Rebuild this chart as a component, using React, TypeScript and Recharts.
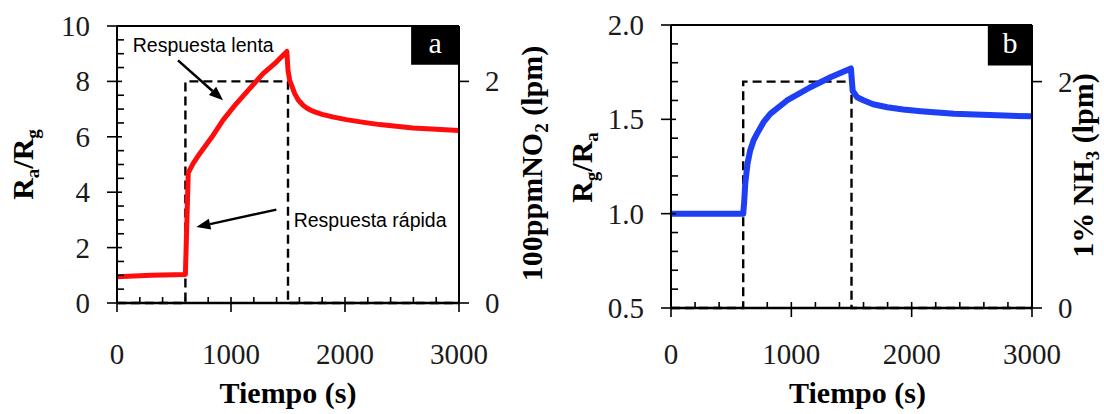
import React from 'react';
import {
  LineChart,
  Line,
  XAxis,
  YAxis,
  ReferenceLine,
  ReferenceArea,
  ReferenceDot,
} from 'recharts';

const serif = "'Liberation Serif', 'Times New Roman', Times, serif";
const sans = "'Liberation Sans', Arial, Helvetica, sans-serif";

// shared time axis ticks (s)
const xTicks = [0, 200, 400, 600, 800, 1000, 1200, 1400, 1600, 1800, 2000, 2200, 2400, 2600, 2800, 3000];
const ticksA = [0, 0.5, 1, 1.5, 2, 2.5, 3, 3.5, 4, 4.5, 5, 5.5, 6, 6.5, 7, 7.5, 8, 8.5, 9, 9.5, 10];
const ticksB = [0.5, 0.6, 0.7, 0.8, 0.9, 1.0, 1.1, 1.2, 1.3, 1.4, 1.5, 1.6, 1.7, 1.8, 1.9, 2.0];
const gasTicks = [0, 2];

// gas pulse (lpm), dashed
const gasTime = [0, 600, 600, 1500, 1500, 3000];
const gasLevel = [0, 0, 2, 2, 0, 0];

// (a) 100ppm NO2, Ra/Rg
const timeA = [0, 300, 600, 612, 625, 667, 725, 842, 930, 1047, 1164, 1281, 1398, 1490, 1500, 1515, 1559, 1590, 1632, 1665, 1700, 1740, 1800, 1900, 2012, 2150, 2304, 2450, 2596, 2800, 3000];
const ratioA = [0.95, 1.0, 1.03, 2.8, 4.7, 5.03, 5.39, 6.05, 6.6, 7.2, 7.74, 8.28, 8.7, 9.08, 8.4, 8.04, 7.56, 7.33, 7.14, 7.04, 6.96, 6.89, 6.81, 6.71, 6.62, 6.53, 6.44, 6.38, 6.32, 6.27, 6.23];

// (b) 1% NH3, Rg/Ra
const timeB = [0, 600, 608, 617, 636, 658, 686, 714, 769, 825, 964, 1158, 1325, 1495, 1510, 1547, 1603, 1680, 1797, 1930, 2075, 2353, 2769, 3000];
const ratioB = [1.0, 1.0, 1.06, 1.16, 1.265, 1.335, 1.388, 1.423, 1.485, 1.529, 1.6, 1.67, 1.723, 1.77, 1.65, 1.617, 1.6, 1.58, 1.564, 1.552, 1.543, 1.529, 1.52, 1.516];

const rows = (t: number[], v: number[]) => t.map((x, i) => ({ t: x, v: v[i] }));
const gasRows = rows(gasTime, gasLevel);
const dataA = rows(timeA, ratioA);
const dataB = rows(timeB, ratioB);

const isMajor = (v: number, step: number) => Math.abs(v / step - Math.round(v / step)) < 1e-6;

const bottomTick = (labelDy: number) => (p: any) => {
  const { x, y, payload } = p;
  const v = payload.value;
  const major = isMajor(v, 1000);
  return (
    <g>
      <line x1={x} x2={x} y1={y - 6} y2={major ? y + 9 : y} stroke="#000" strokeWidth={1.6} />
      {major && (
        <text x={x} y={y + labelDy} textAnchor="middle" fontFamily={serif} fontSize={29} fill="#1a1a1a">
          {v}
        </text>
      )}
    </g>
  );
};

const leftTick = (step: number, digits: number) => (p: any) => {
  const { x, y, payload } = p;
  const v = payload.value;
  const major = isMajor(v, step);
  return (
    <g>
      <line x1={major ? x - 10 : x} x2={major ? x + 5 : x + 7} y1={y} y2={y} stroke="#000" strokeWidth={1.6} />
      {major && (
        <text x={x - 27} y={y} dy={10} textAnchor="end" fontFamily={serif} fontSize={29} fill="#1a1a1a">
          {v.toFixed(digits)}
        </text>
      )}
    </g>
  );
};

const rightTick = (p: any) => {
  const { x, y, payload } = p;
  return (
    <g>
      <line x1={x} x2={x + 10} y1={y} y2={y} stroke="#000" strokeWidth={1.6} />
      <text x={x + 26} y={y} dy={10} textAnchor="start" fontFamily={serif} fontSize={29} fill="#1a1a1a">
        {payload.value}
      </text>
    </g>
  );
};

const vTitle = (dx: number, dyc: number, parts: Array<[string, boolean]>) => (p: any) => {
  const vb = p.viewBox;
  if (!vb) return null;
  const cx = vb.x + dx;
  const cy = vb.y + vb.height / 2 + dyc;
  let sub = false;
  return (
    <text
      transform={`rotate(-90 ${cx} ${cy})`}
      x={cx}
      y={cy}
      textAnchor="middle"
      fontFamily={serif}
      fontWeight="bold"
      fontSize={30}
      fill="#000"
    >
      {parts.map(([s, isSub], i) => {
        const dy = isSub === sub ? 0 : isSub ? 6 : -6;
        sub = isSub;
        return (
          <tspan key={i} dy={dy} fontSize={isSub ? 19 : 30}>
            {s}
          </tspan>
        );
      })}
    </text>
  );
};

const xTitle = (dx: number, baseline: number) => (p: any) => {
  const vb = p.viewBox;
  if (!vb) return null;
  return (
    <text x={vb.x + vb.width / 2 + dx} y={vb.y + baseline} textAnchor="middle" fontFamily={serif} fontWeight="bold" fontSize={30} fill="#000">
      Tiempo (s)
    </text>
  );
};

const Arrow = (p: any) => {
  const { x1, y1, x2, y2 } = p;
  const a = Math.atan2(y2 - y1, x2 - x1);
  const len = 14;
  const half = 5.5;
  const bx = x2 - len * Math.cos(a);
  const by = y2 - len * Math.sin(a);
  const px = -Math.sin(a) * half;
  const py = Math.cos(a) * half;
  return (
    <g>
      <line x1={x1} y1={y1} x2={bx} y2={by} stroke="#000" strokeWidth={2.5} />
      <polygon points={`${x2},${y2} ${bx + px},${by + py} ${bx - px},${by - py}`} fill="#000" />
    </g>
  );
};

const note = (text: string) => (p: any) => (
  <text x={p.cx} y={p.cy} dy={7} fontFamily={sans} fontSize={19.5} fill="#000">
    {text}
  </text>
);

const panelTag = (letter: string) => (p: any) => {
  const vb = p.viewBox;
  if (!vb) return null;
  return (
    <text x={vb.x + vb.width / 2} y={vb.y + vb.height / 2 + 7.5} textAnchor="middle" fontFamily={serif} fontSize={30} fill="#fff">
      {letter}
    </text>
  );
};

const axisLine = { stroke: '#000', strokeWidth: 2 };

function ChartA() {
  return (
    <LineChart width={560} height={414} margin={{ top: 26, right: 0, bottom: 0, left: 0 }}>
      <XAxis
        dataKey="t"
        type="number"
        domain={[0, 3000]}
        ticks={xTicks}
        interval={0}
        height={111}
        tickSize={0}
        tickMargin={0}
        tickLine={false}
        axisLine={axisLine}
        tick={bottomTick(61)}
        label={{ content: xTitle(0, 100) }}
      />
      <YAxis
        yAxisId="left"
        type="number"
        domain={[0, 10]}
        ticks={ticksA}
        interval={0}
        width={117}
        tickSize={0}
        tickMargin={0}
        tickLine={false}
        axisLine={axisLine}
        tick={leftTick(2, 0)}
        label={{ content: vTitle(33, 0, [['R', false], ['a', true], ['/R', false], ['g', true]]) }}
      />
      <YAxis
        yAxisId="gas"
        orientation="right"
        type="number"
        domain={[0, 2.5]}
        ticks={gasTicks}
        interval={0}
        width={101}
        tickSize={0}
        tickMargin={0}
        tickLine={false}
        axisLine={axisLine}
        tick={rightTick}
        label={{ content: vTitle(83, -1, [['100ppmNO', false], ['2', true], [' (lpm)', false]]) }}
      />
      <ReferenceLine yAxisId="left" y={10} stroke="#000" strokeWidth={2} ifOverflow="visible" />
      <Line
        yAxisId="gas"
        data={gasRows}
        dataKey="v"
        type="linear"
        stroke="#000"
        strokeWidth={2.4}
        strokeDasharray="9 5"
        dot={false}
        isAnimationActive={false}
      />
      <ReferenceLine yAxisId="left" y={0} stroke="#000" strokeWidth={2.4} ifOverflow="visible" />
      <Line
        yAxisId="left"
        data={dataA}
        dataKey="v"
        type="linear"
        stroke="#ff0d0d"
        strokeWidth={5}
        strokeLinejoin="round"
        dot={false}
        isAnimationActive={false}
      />
      <ReferenceLine yAxisId="left" segment={[{ x: 535, y: 8.76 }, { x: 930, y: 7.32 }]} shape={Arrow} />
      <ReferenceLine yAxisId="left" segment={[{ x: 1398, y: 3.37 }, { x: 696, y: 2.74 }]} shape={Arrow} />
      <ReferenceDot yAxisId="left" x={138} y={9.3} r={0} shape={note('Respuesta lenta')} />
      <ReferenceDot yAxisId="left" x={1550} y={3.0} r={0} shape={note('Respuesta rápida')} />
      <ReferenceArea
        yAxisId="left"
        x1={2580}
        x2={3000}
        y1={8.6}
        y2={10}
        fill="#000"
        fillOpacity={1}
        stroke="none"
        label={{ content: panelTag('a') }}
      />
    </LineChart>
  );
}

function ChartB() {
  return (
    <LineChart width={544} height={414} margin={{ top: 25, right: 0, bottom: 0, left: 0 }}>
      <XAxis
        dataKey="t"
        type="number"
        domain={[0, 3000]}
        ticks={xTicks}
        interval={0}
        height={106}
        tickSize={0}
        tickMargin={0}
        tickLine={false}
        axisLine={axisLine}
        tick={bottomTick(56)}
        label={{ content: xTitle(6, 95) }}
      />
      <YAxis
        yAxisId="left"
        type="number"
        domain={[0.5, 2.0]}
        ticks={ticksB}
        interval={0}
        width={111}
        tickSize={0}
        tickMargin={0}
        tickLine={false}
        axisLine={axisLine}
        tick={leftTick(0.5, 1)}
        label={{ content: vTitle(31.7, 1, [['R', false], ['g', true], ['/R', false], ['a', true]]) }}
      />
      <YAxis
        yAxisId="gas"
        orientation="right"
        type="number"
        domain={[0, 2.5]}
        ticks={gasTicks}
        interval={0}
        width={72}
        tickSize={0}
        tickMargin={0}
        tickLine={false}
        axisLine={axisLine}
        tick={rightTick}
        label={{ content: vTitle(61, -1, [['1% NH', false], ['3', true], [' (lpm)', false]]) }}
      />
      <ReferenceLine yAxisId="left" y={2.0} stroke="#000" strokeWidth={2} ifOverflow="visible" />
      <Line
        yAxisId="gas"
        data={gasRows}
        dataKey="v"
        type="linear"
        stroke="#000"
        strokeWidth={2.4}
        strokeDasharray="9 5"
        dot={false}
        isAnimationActive={false}
      />
      <ReferenceLine yAxisId="left" y={0.5} stroke="#000" strokeWidth={2.4} ifOverflow="visible" />
      <Line
        yAxisId="left"
        data={dataB}
        dataKey="v"
        type="linear"
        stroke="#1f3ff5"
        strokeWidth={6}
        strokeLinejoin="round"
        dot={false}
        isAnimationActive={false}
      />
      <ReferenceArea
        yAxisId="left"
        x1={2633}
        x2={3000}
        y1={1.785}
        y2={2.0}
        fill="#000"
        fillOpacity={1}
        stroke="none"
        label={{ content: panelTag('b') }}
      />
    </LineChart>
  );
}

export default function App() {
  return (
    <div style={{ position: 'absolute', left: 0, top: 0, width: 1104, height: 414, background: '#fff' }}>
      <div style={{ position: 'absolute', left: 0, top: 0 }}>
        <ChartA />
      </div>
      <div style={{ position: 'absolute', left: 560, top: 0 }}>
        <ChartB />
      </div>
    </div>
  );
}
